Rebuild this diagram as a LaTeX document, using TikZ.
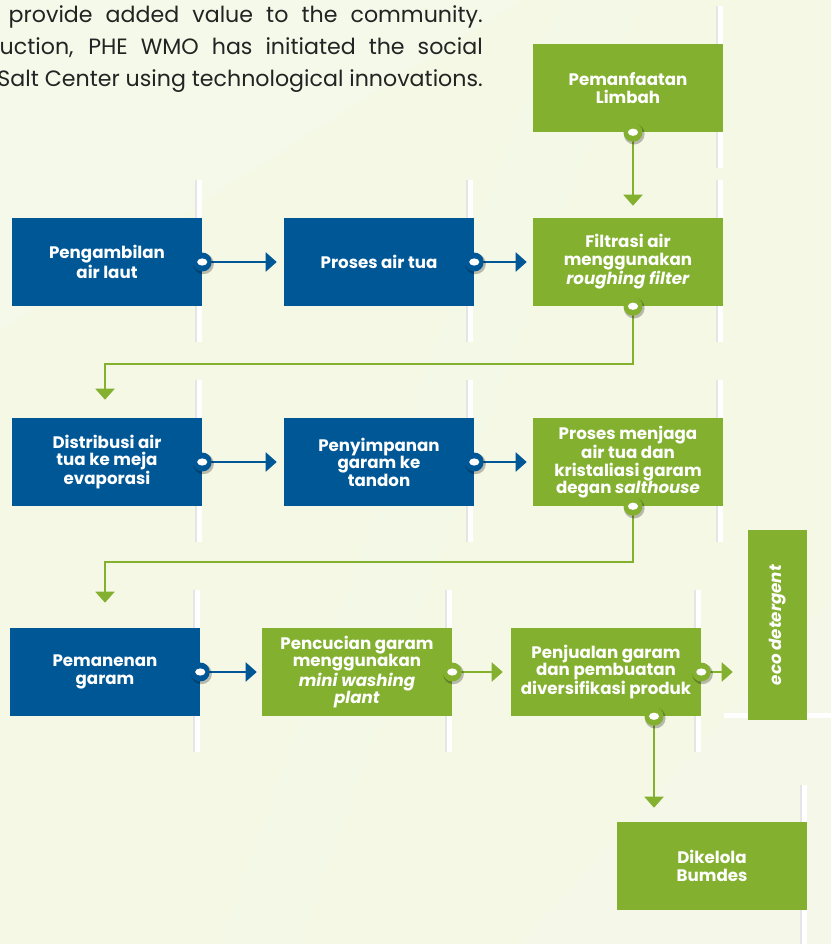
\documentclass[tikz,border=0pt]{standalone}
\usepackage{fontspec}
\setmainfont{Poppins}
\usetikzlibrary{arrows.meta,calc}
\definecolor{bg}{RGB}{244,248,229}
\definecolor{pblue}{RGB}{0,87,150}
\definecolor{pgreen}{RGB}{131,176,47}
\definecolor{ptext}{RGB}{35,35,35}
\tikzset{
 box/.style={rectangle, inner sep=0pt, minimum width=142.5pt, minimum height=66pt, align=center, text=white, font=\fontsize{12.5pt}{13.2pt}\selectfont\bfseries},
 bluebox/.style={box, fill=pblue},
 greenbox/.style={box, fill=pgreen},
 conn/.style={line width=1.5pt, -{Triangle[length=8.25pt,width=14.25pt]}},
 bconn/.style={conn, draw=pblue},
 gconn/.style={conn, draw=pgreen},
 para/.style={inner sep=0pt, anchor=base east, text=ptext, font=\fontsize{16.6pt}{18pt}\selectfont},
}
\newcommand\pdot[2]{%
 \fill[black,opacity=.25] ($#1+(1.2,1.8)$) circle (7.8pt);
 \fill[#2] #1 circle (7.1pt);
 \fill[white] #1 ellipse (3.8pt and 2.7pt);}
\newcommand\pbar[4]{%
 \fill[white] (#1,#3) rectangle (#2,#4);
 \fill[black!10] (#1,#3) rectangle ($(#1,#4)+(2,0)$);}
\begin{document}
\begin{tikzpicture}[x=0.75pt,y=-0.75pt]
\useasboundingbox (0,0) rectangle (831,944);
\clip (0,0) rectangle (831,944);
% background
\fill[bg] (0,0) rectangle (831,944);
\fill[white,opacity=.18] (0,0) -- (520,0) -- (0,330) -- cycle;
\fill[white,opacity=.12] (520,944) -- (831,600) -- (831,944) -- cycle;
\fill[white,opacity=.08] (560,0) -- (640,0) -- (300,944) -- (220,944) -- cycle;
% paragraph
\node[para] (l1) at (483,23) {\makebox[355.5pt][s]{provide added value to the community.}};
\node[para] (l2) at (483,55) {\makebox[362.25pt][s]{uction, PHE WMO has initiated the social}};
\node[para] (l3) at (483,87) {Salt Center using technological innovations.};
% decorative bars
\pbar{716}{723}{6}{168}
\pbar{195}{202}{180}{342}
\pbar{466}{473}{180}{342}
\pbar{716}{723}{180}{342}
\pbar{195}{202}{380}{542}
\pbar{466}{473}{380}{542}
\pbar{716}{723}{380}{542}
\pbar{193}{200}{590}{752}
\pbar{445}{452}{590}{752}
\pbar{694}{701}{590}{752}
\pbar{800}{807}{785}{944}
\fill[white] (724,713) rectangle (831,718);
% boxes
\node[greenbox] (pem) at (628,88) {Pemanfaatan\\Limbah};
\node[bluebox] (pa) at (107,262) {Pengambilan\\air laut};
\node[bluebox] (pat) at (379,262) {Proses air tua};
\node[greenbox] (fil) at (628,262) {Filtrasi air\\menggunakan\\\textit{roughing filter}};
\node[bluebox] (dis) at (107,462) {Distribusi air\\tua ke meja\\evaporasi};
\node[bluebox] (pen) at (379,462) {Penyimpanan\\garam ke\\tandon};
\node[greenbox] (pmj) at (628,462) {Proses menjaga\\air tua dan\\kristaliasi garam\\degan \textit{salthouse}};
\node[bluebox] (pmn) at (105,672) {Pemanenan\\garam};
\node[greenbox] (pcu) at (357,672) {Pencucian garam\\menggunakan\\\textit{mini washing}\\\textit{plant}};
\node[greenbox] (pjl) at (606,672) {Penjualan garam\\dan pembuatan\\diversifikasi produk};
\node[greenbox, rotate=90, minimum width=142.5pt, minimum height=44.25pt] (eco) at (777.5,625) {\textit{eco detergent}};
\node[greenbox] (dik) at (712,866) {Dikelola\\Bumdes};
% connectors
\draw[bconn] (pa.east) -- ($(pat.west)+(-7,0)$);
\draw[bconn] (pat.east) -- ($(fil.west)+(-6,0)$);
\draw[gconn] ($(pem.south)+(5,0)$) -- ($(fil.north)+(5,-12)$);
\draw[gconn] ($(fil.south)+(5,0)$) -- ++(0,58) -| ($(dis.north)+(-2,-18)$);
\draw[bconn] (dis.east) -- ($(pen.west)+(-7,0)$);
\draw[bconn] (pen.east) -- ($(pmj.west)+(-6,0)$);
\draw[gconn] ($(pmj.south)+(5,0)$) -- ++(0,56) -| ($(pmn.north)+(0,-25)$);
\draw[bconn] (pmn.east) -- ($(pcu.west)+(-5,0)$);
\draw[gconn] (pcu.east) -- ($(pjl.west)+(-8,0)$);
\draw[gconn] (pjl.east) -- ($(eco.north |- pjl.east)+(-15,0)$);
\draw[gconn] ($(pjl.south)+(48,0)$) -- ($(dik.north)+(-58,-14)$);
% dots
\pdot{(pa.east)}{pblue}
\pdot{(pat.east)}{pblue}
\pdot{(dis.east)}{pblue}
\pdot{(pen.east)}{pblue}
\pdot{(pmn.east)}{pblue}
\pdot{(pcu.east)}{pgreen}
\pdot{(pjl.east)}{pgreen}
\pdot{($(pem.south)+(5,0)$)}{pgreen}
\pdot{($(fil.south)+(5,0)$)}{pgreen}
\pdot{($(pmj.south)+(5,0)$)}{pgreen}
\pdot{($(pjl.south)+(48,0)$)}{pgreen}
\end{tikzpicture}
\end{document}
